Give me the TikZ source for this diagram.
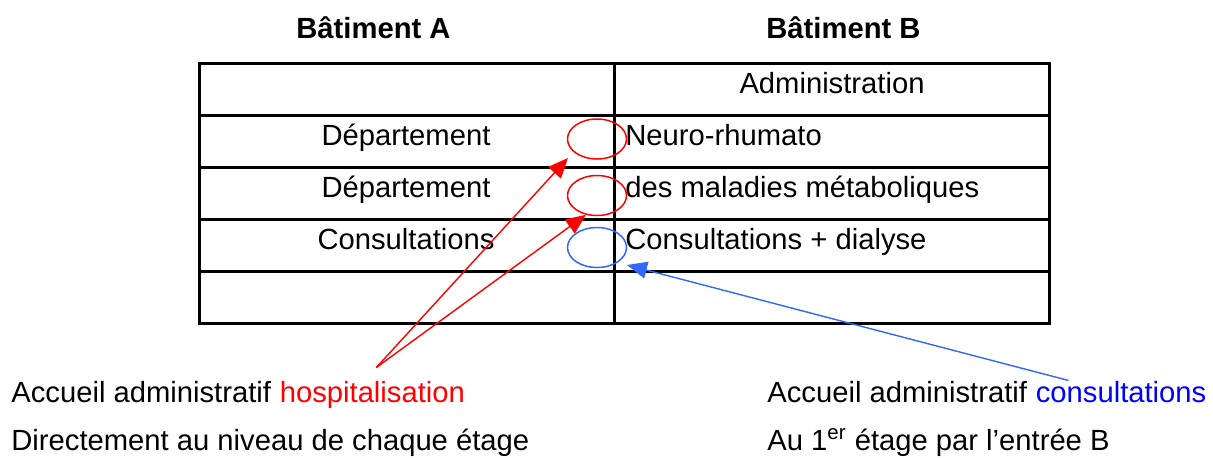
\documentclass[tikz,border=0pt]{standalone}
\usepackage{fontspec}
\setmainfont{Liberation Sans}
\usetikzlibrary{arrows.meta,shapes.geometric}
\definecolor{redline}{RGB}{255,0,0}
\definecolor{blueline}{RGB}{51,102,255}
\definecolor{bluetext}{RGB}{0,0,255}

\begin{document}
\begin{tikzpicture}[x=0.5pt,y=-0.5pt,
	every node/.style={font=\fontsize{14.6}{17}\selectfont,inner sep=0pt,anchor=base west},
	title/.style={font=\fontsize{14.6}{17}\selectfont\bfseries},
	grid/.style={line width=1.5pt},
	ring/.style={ellipse,draw,line width=0.75pt,minimum width=29.5pt,minimum height=20pt,anchor=center},
	arrowline/.style={line width=0.7pt,-{Triangle[length=10pt,width=8.5pt]}}]
\useasboundingbox (0,0) rectangle (1213,457);

%the two buildings
\node[title] (batA) at (296,38) {Bâtiment A};
\node[title] (batB) at (766,38) {Bâtiment B};

%the table of floors
\draw[grid] (199,63) rectangle (1049,323);
\foreach \y in {115,167,219,271}{
	\draw[grid] (199,\y) -- (1049,\y);
}
\draw[grid] (614,63) -- (614,323);

%left column
\foreach \y/\txt[count=\i] in {145/Département,197/Département,249/Consultations}{
	\node[anchor=base] (left\i) at (406,\y) {\txt};
}

%right column
\node[anchor=base] (admin) at (832,93) {Administration};
\node (right1) at (625,145) {Neuro-rhumato};
\node (right2) at (625,197) {des maladies métaboliques};
\node (right3) at (625,249) {Consultations + dialyse};

%the circled floors
\node[ring,draw=redline] (neuro) at (597,139) {};
\node[ring,draw=redline] (meta) at (597,195.5) {};
\node[ring,draw=blueline] (dial) at (597,247.5) {};

%the two entrances
\node (accH) at (11,402) {Accueil administratif};
\node[text=redline] (hosp) at ([xshift=4pt]accH.base east) {hospitalisation};
\node (dirH) at (11,450) {Directement au niveau de chaque étage};
\node (accC) at (767,402) {Accueil administratif};
\node[text=bluetext] (cons) at ([xshift=4pt]accC.base east) {consultations};
\node (dirC) at (767,450) {Au 1\textsuperscript{er} étage par l’entrée B};

\coordinate (tip1) at (568,158);
\coordinate (tip3) at (627,265);
\draw[arrowline,draw=redline,fill=redline] ([shift={(2pt,6.5pt)}]hosp.north) -- (tip1);
\draw[arrowline,draw=redline,fill=redline] ([shift={(2pt,6.5pt)}]hosp.north) -- (meta.240);
\draw[arrowline,draw=blueline,fill=blueline] ([xshift=16.5pt]cons.north west) -- (tip3);
\end{tikzpicture}
\end{document}
